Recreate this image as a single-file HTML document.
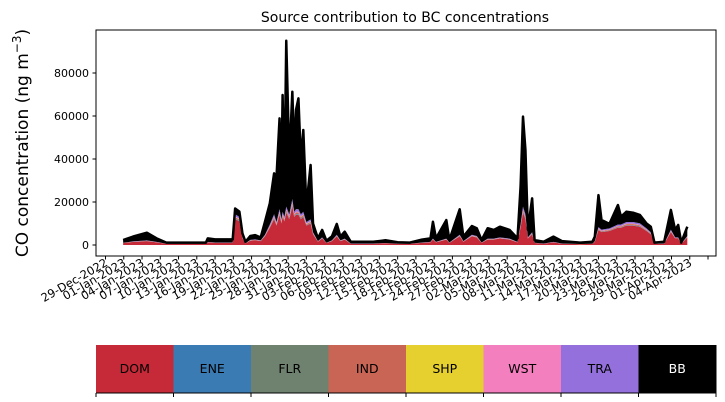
<!DOCTYPE html>
<html><head><meta charset="utf-8"><style>
body{margin:0;background:#fff;}
svg{display:block;font-family:"DejaVu Sans","Liberation Sans",sans-serif;}
</style></head><body>
<svg id="chart" width="725" height="402" viewBox="0 0 725 402">
<text x="405" y="22" text-anchor="middle" font-size="14">Source contribution to BC concentrations</text>
<text transform="translate(28,143) rotate(-90)" text-anchor="middle" font-size="17">CO concentration (ng m<tspan dy="-7" font-size="12">−3</tspan><tspan dy="7">)</tspan></text>
<g id="areas"></g>
<g id="yaxis"></g>
<g id="xaxis"></g>
<rect x="96" y="30" width="620" height="226" fill="none" stroke="#000" stroke-width="1"/>
<g id="legend"></g>
</svg>
<script>
const seriesNames = ["DOM","ENE","FLR","IND","SHP","WST","TRA","BB"];
const seriesColors = ["#c62a38","#3a7bb3","#6f8270","#c96555","#e6d030","#f47fbf","#9370db","#000000"];
const days = [2.9,4.5,6.8,8.4,10,13,16.5,16.8,18,20,20.9,21.3,22,22.5,23,23.8,24.6,25.5,26.2,27,27.7,28.1,28.6,28.9,29.1,29.4,29.7,30.2,30.7,31.0,31.3,31.7,32.1,32.5,33.0,33.7,34.1,34.9,35.6,36.3,37.2,38,38.6,39.3,40.3,44,46,48,50,52,53.4,53.8,54.3,56.0,56.5,58.2,58.8,60.2,61.0,61.8,62.8,63.8,64.8,66.4,67.7,68.2,68.6,69.0,69.4,70.1,70.5,72,73.6,75,78,80,80.4,81,81.5,82.8,84.2,84.7,85.6,86.7,87.8,88.9,89.6,90.2,91.8,92.9,93.6,94.1,94.6,95.6];
const DOM = [900,1400,1800,1200,500,500,500,1200,1000,1000,1000,12000,11000,3000,700,2000,2200,1800,4000,8000,12000,9000,14000,10000,13000,11000,15000,12000,18000,13000,14000,14000,12000,13000,9000,10000,5000,1500,3000,900,1800,4000,1800,2500,600,600,800,500,500,1000,1200,2500,1200,2500,1000,4000,1500,4000,3500,1000,2500,2500,3000,2500,1200,8000,15000,12000,3000,5000,900,600,1200,600,400,500,1500,7000,6000,6500,8000,8000,9000,9000,8500,6500,5000,500,600,6000,3000,3000,500,3500];
const ENE = [18,28,36,24,10,10,10,24,20,20,20,240,220,60,14,40,44,36,80,160,240,180,280,200,260,220,300,240,360,260,280,280,240,260,180,200,100,30,60,18,36,80,36,50,12,12,16,10,10,20,24,50,24,50,20,80,30,80,70,20,50,50,60,50,24,160,300,240,60,100,18,12,24,12,8,10,30,140,120,130,160,160,180,180,170,130,100,10,12,120,60,60,10,70];
const FLR = [9,14,18,12,5,5,5,12,10,10,10,120,110,30,7,20,22,18,40,80,120,90,140,100,130,110,150,120,180,130,140,140,120,130,90,100,50,15,30,9,18,40,18,25,6,6,8,5,5,10,12,25,12,25,10,40,15,40,35,10,25,25,30,25,12,80,150,120,30,50,9,6,12,6,4,5,15,70,60,65,80,80,90,90,85,65,50,5,6,60,30,30,5,35];
const IND = [45,70,90,60,25,25,25,60,50,50,50,600,550,150,35,100,110,90,200,400,600,450,700,500,650,550,750,600,900,650,700,700,600,650,450,500,250,75,150,45,90,200,90,125,30,30,40,25,25,50,60,125,60,125,50,200,75,200,175,50,125,125,150,125,60,400,750,600,150,250,45,30,60,30,20,25,75,350,300,325,400,400,450,450,425,325,250,25,30,300,150,150,25,175];
const SHP = [9,14,18,12,5,5,5,12,10,10,10,120,110,30,7,20,22,18,40,80,120,90,140,100,130,110,150,120,180,130,140,140,120,130,90,100,50,15,30,9,18,40,18,25,6,6,8,5,5,10,12,25,12,25,10,40,15,40,35,10,25,25,30,25,12,80,150,120,30,50,9,6,12,6,4,5,15,70,60,65,80,80,90,90,85,65,50,5,6,60,30,30,5,35];
const WST = [18,28,36,24,10,10,10,24,20,20,20,240,220,60,14,40,44,36,80,160,240,180,280,200,260,220,300,240,360,260,280,280,240,260,180,200,100,30,60,18,36,80,36,50,12,12,16,10,10,20,24,50,24,50,20,80,30,80,70,20,50,50,60,50,24,160,300,240,60,100,18,12,24,12,8,10,30,140,120,130,160,160,180,180,170,130,100,10,12,120,60,60,10,70];
const TRA = [72,112,144,96,40,40,40,96,80,80,80,960,880,240,56,160,176,144,320,640,960,720,1120,800,1040,880,1200,960,1440,1040,1120,1120,960,1040,720,800,400,120,240,72,144,320,144,200,48,48,64,40,40,80,96,200,96,200,80,320,120,320,280,80,200,200,240,200,96,640,1200,960,240,400,72,48,96,48,32,40,120,560,480,520,640,640,720,720,680,520,400,40,48,480,240,240,40,280];
const BB = [1229,2234,3558,1672,505,505,505,1672,1410,1410,1410,2720,2410,1830,667,1820,1982,1358,6040,9880,19020,21090,42240,18100,54280,14010,77150,25220,49880,27130,46140,51540,25220,38030,7090,25300,4050,1315,3430,929,1858,5040,1758,3225,786,786,1248,705,505,1310,1672,7825,1672,8625,1110,11840,2115,4040,3635,1110,4825,4025,4930,4025,1672,17580,41850,29920,3430,15750,1229,786,2472,1086,624,905,2115,14870,4460,2065,9080,3680,4790,4290,3885,2265,2550,505,786,9160,3430,5730,505,4335];
const yTicks = [0,20000,40000,60000,80000];
const xTickLabels = ["29-Dec-2022","01-Jan-2023","04-Jan-2023","07-Jan-2023","10-Jan-2023","13-Jan-2023","16-Jan-2023","19-Jan-2023","22-Jan-2023","25-Jan-2023","28-Jan-2023","31-Jan-2023","03-Feb-2023","06-Feb-2023","09-Feb-2023","12-Feb-2023","15-Feb-2023","18-Feb-2023","21-Feb-2023","24-Feb-2023","27-Feb-2023","02-Mar-2023","05-Mar-2023","08-Mar-2023","11-Mar-2023","14-Mar-2023","17-Mar-2023","20-Mar-2023","23-Mar-2023","26-Mar-2023","29-Mar-2023","01-Apr-2023","04-Apr-2023",""];

const NS="http://www.w3.org/2000/svg";
const X0=105.5, PXDAY=6.086, Y0=245, PXVAL=172/80000;
const xs=d=>X0+d*PXDAY;
const ys=v=>Y0-v*PXVAL;
function mk(tag,attrs,parent){const e=document.createElementNS(NS,tag);for(const k in attrs)e.setAttribute(k,attrs[k]);parent.appendChild(e);return e;}

const areas=document.getElementById('areas');
const series=[DOM,ENE,FLR,IND,SHP,WST,TRA,BB];
let base=days.map(()=>0);
series.forEach((s,si)=>{
  const top=base.map((b,i)=>b+s[i]);
  let d="M"+days.map((t,i)=>xs(t).toFixed(2)+","+ys(top[i]).toFixed(2)).join("L");
  for(let i=days.length-1;i>=0;i--)d+="L"+xs(days[i]).toFixed(2)+","+ys(base[i]).toFixed(2);
  d+="Z";
  const p=mk('path',{d:d,fill:seriesColors[si]},areas);
  
  
  if(si===series.length-1){
    const l=mk('path',{d:"M"+days.map((t,i)=>xs(t).toFixed(2)+","+ys(top[i]).toFixed(2)).join("L"),fill:"none",stroke:"#000","stroke-width":2.5,"stroke-linejoin":"round"},areas);
    
    
  }
  base=top;
});

const yaxis=document.getElementById('yaxis');
yTicks.forEach(v=>{
  const y=ys(v);
  const t=mk('line',{x1:92.5,x2:96,y1:y,y2:y,stroke:"#000"},yaxis);
  
  
  const tx=mk('text',{x:89,y:y+3.8,"text-anchor":"end","font-size":11},yaxis);
  
  
  tx.textContent=String(v);
});

const xaxis=document.getElementById('xaxis');
xTickLabels.forEach((lab,i)=>{
  const x=xs(i*3);
  const t=mk('line',{x1:x,x2:x,y1:256,y2:259.5,stroke:"#000"},xaxis);
  
  
  if(lab){
    const tx=mk('text',{transform:`translate(${x+3},${265}) rotate(-30)`,"text-anchor":"end","font-size":11.5},xaxis);
    
    
    tx.textContent=lab;
  }
});

const legend=document.getElementById('legend');
const LW=620/seriesNames.length;
seriesNames.forEach((n,i)=>{
  const x=96+i*LW;
  const r=mk('rect',{x:x,y:345,width:LW+0.5,height:48,fill:seriesColors[i]},legend);
  
  
  const tx=mk('text',{x:x+LW/2,y:373,"text-anchor":"middle","font-size":12.5,fill:n==="BB"?"#fff":"#000"},legend);
  
  
  tx.textContent=n;
});
for(let i=0;i<=seriesNames.length;i++){
  const x=96+i*LW;
  const t=mk('line',{x1:x,x2:x,y1:393,y2:397,stroke:"#000"},legend);
  
  
}
const lb=mk('line',{x1:96,x2:716,y1:393,y2:393,stroke:"#000"},legend);


</script>
</body></html>
